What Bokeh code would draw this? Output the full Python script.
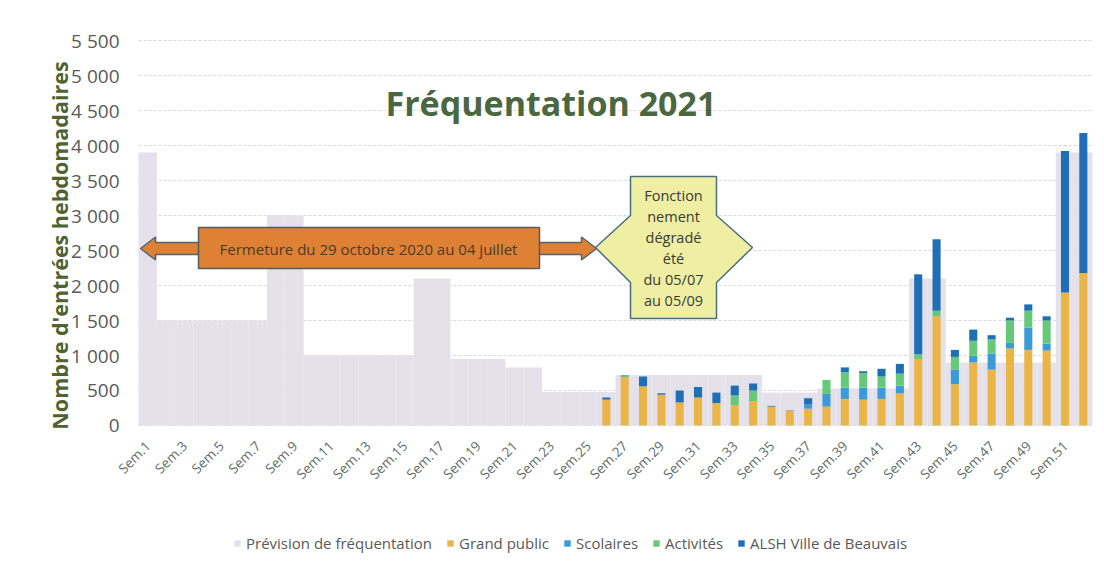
import math
from bokeh.plotting import figure
from bokeh.models import ColumnDataSource, Range1d, Legend, LegendItem, Label
from bokeh.core.properties import value
from bokeh.embed import file_html
from bokeh.resources import INLINE

# ---------------- data ----------------
weeks = list(range(1, 53))
week_labels = ["Sem.%d" % w for w in weeks]

prevision = [3900, 1500, 1500, 1500, 1500, 1500, 1500, 3000, 3000, 1000,
             1000, 1000, 1000, 1000, 1000, 2100, 2100, 950, 950, 950,
             830, 830, 480, 480, 480, 480, 720, 720, 720, 720,
             720, 720, 720, 720, 470, 470, 470, 530, 530, 530,
             530, 530, 2100, 2100, 900, 900, 900, 900, 900, 900,
             3900, 3900]

grand_public = [0] * 25 + [370, 690, 560, 440, 330, 400, 320, 290, 350, 270,
                          210, 240, 270, 380, 370, 380, 460, 950, 1560, 590,
                          900, 800, 1100, 1080, 1070, 1900, 2180]
scolaires = [0] * 25 + [0, 0, 0, 0, 0, 0, 0, 0, 0, 0,
                       0, 60, 180, 160, 170, 160, 110, 0, 0, 210,
                       95, 230, 80, 320, 100, 0, 0]
activites = [0] * 25 + [0, 15, 0, 0, 0, 0, 0, 140, 150, 0,
                       0, 0, 200, 220, 210, 160, 170, 70, 80, 180,
                       215, 200, 320, 240, 330, 0, 0]
alsh = [0] * 25 + [30, 10, 140, 20, 170, 150, 150, 140, 100, 10,
                  5, 90, 0, 70, 25, 110, 140, 1140, 1020, 100,
                  160, 60, 40, 90, 60, 2020, 2000]

series_names = ["Prévision de fréquentation", "Grand public", "Scolaires", "Activités", "ALSH Ville de Beauvais"]
y_ticks = list(range(0, 5501, 500))
y_tick_labels = ["{:,}".format(v).replace(",", " ") for v in y_ticks]

title_text = "Fréquentation 2021"
y_title = "Nombre d'entrées hebdomadaires"
closure_text = "Fermeture du 29 octobre 2020 au 04 juillet"
callout_lines = ["Fonction", "nement", "dégradé", "été", "du 05/07", "au 05/09"]

# ---------------- styles ----------------
C_PREV = "#E4E1EA"
C_GP = "#EAB447"
C_SCOL = "#3A9BD8"
C_ACT = "#66C97A"
C_ALSH = "#1E6FB6"
FONT = "Open Sans"

W, H = 1100, 560
# plot area on the page: x 138..1092 holds the 52 weeks; value 0 at y 425, 5500 at y 40
FX0, FX1 = 138.0, 1092.0
Y_TOP_PX, Y_ZERO_PX = 40.0, 425.0
UNIT_PX = (FX1 - FX0) / 52.0
PX_PER_VAL = (Y_ZERO_PX - Y_TOP_PX) / 5500.0

def px2x(px):
    return 0.5 + (px - FX0) / UNIT_PX
def py2y(py):
    return (Y_ZERO_PX - py) / PX_PER_VAL

source = ColumnDataSource(dict(week=weeks, prevision=prevision, gp=grand_public,
                               scol=scolaires, act=activites, alsh=alsh))

p = figure(width=W, height=H, x_range=Range1d(px2x(0), px2x(W)), y_range=Range1d(py2y(H), py2y(0)),
           output_backend="svg", toolbar_location=None,
           x_axis_location=None, y_axis_location=None,
           min_border_left=0, min_border_right=0, min_border_top=0, min_border_bottom=0)
p.outline_line_color = None
p.background_fill_color = "white"
p.border_fill_color = "white"
p.xgrid.visible = False
p.ygrid.visible = False

# horizontal grid lines
p.segment(x0=[0.5] * len(y_ticks), x1=[52.5] * len(y_ticks), y0=y_ticks, y1=y_ticks,
          line_color="#D9D9D9", line_dash="3 2", line_width=1)

r_prev = p.vbar(x="week", top="prevision", width=1.0, source=source,
                fill_color=C_PREV, line_color=None)

# closure arrow (block double arrow) drawn over the forecast bars
yc = 248
ax = [140, 155, 155, 581, 581, 596, 581, 581, 155, 155]
ay = [yc, yc - 11.5, yc - 6, yc - 6, yc - 11.5, yc, yc + 11.5, yc + 6, yc + 6, yc + 11.5]
p.patch([px2x(v) for v in ax], [py2y(v) for v in ay], fill_color="#DF8134",
        line_color="#4E6676", line_width=1.5)
bx = [198, 539, 539, 198]
by = [227, 227, 268, 268]
p.patch([px2x(v) for v in bx], [py2y(v) for v in by], fill_color="#DF8134",
        line_color="#555A5C", line_width=1.5)
p.add_layout(Label(x=px2x(368), y=py2y(248), text=closure_text, text_align="center",
                   text_baseline="middle", text_font=FONT, text_font_size="15px",
                   text_color="#4A3A2C"))

stack_r = p.vbar_stack(["gp", "scol", "act", "alsh"], x="week", width=0.44, source=source,
                       color=[C_GP, C_SCOL, C_ACT, C_ALSH], line_color=None)

# callout (left-right arrow callout)
cx = [630, 716, 716, 752, 716, 716, 630, 630, 595, 630]
cy = [176, 176, 215, 247, 282, 318, 318, 282, 247, 215]
p.patch([px2x(v) for v in cx], [py2y(v) for v in cy], fill_color="#EEEFA3",
        line_color="#4A6E80", line_width=1.5)
p.text(x=[px2x(673)] * len(callout_lines),
       y=[py2y(195 + 21 * i) for i in range(len(callout_lines))],
       text=callout_lines, text_font=value(FONT),
       text_font_size=value("14.5px"), text_align="center",
       text_baseline="middle", text_color="#3A3A3A")

# title
p.add_layout(Label(x=px2x(385), y=py2y(102), text=title_text, text_align="left",
                   text_baseline="alphabetic", text_font=FONT, text_font_size="34px",
                   text_font_style="bold", text_color="#4A6741"))

# x tick labels (every other week), slanted
lab_weeks = weeks[::2]
lab_text = week_labels[::2]
p.text(x=[w + 0.02 for w in lab_weeks], y=[py2y(443)] * len(lab_weeks), text=lab_text,
       angle=math.pi / 4, text_align="right", text_baseline="middle",
       text_font=value(FONT), text_font_size=value("13.5px"), text_color="#5F6B6B")

# y tick labels
p.text(x=[px2x(119)] * len(y_ticks), y=y_ticks, text=y_tick_labels,
       text_align="right", text_baseline="middle",
       text_font=value(FONT), text_font_size=value("19px"), text_color="#595959")

# y axis title
p.text(x=[px2x(59)], y=[py2y(245)], text=[y_title], angle=math.pi / 2,
       text_align="center", text_baseline="middle", text_font=value(FONT),
       text_font_size=value("21.5px"), text_font_style="bold", text_color="#50632E")

legend = Legend(items=[LegendItem(label=series_names[0], renderers=[r_prev])] +
                [LegendItem(label=n, renderers=[r]) for n, r in zip(series_names[1:], stack_r)],
                orientation="horizontal", location=(233, 7),
                label_text_font=FONT, label_text_font_size="15px", label_text_color="#595959",
                glyph_width=8, glyph_height=8, label_standoff=5, spacing=14, padding=0,
                border_line_color=None, background_fill_alpha=0, margin=0)
p.add_layout(legend)

open("out.html", "w").write(file_html(p, INLINE))
